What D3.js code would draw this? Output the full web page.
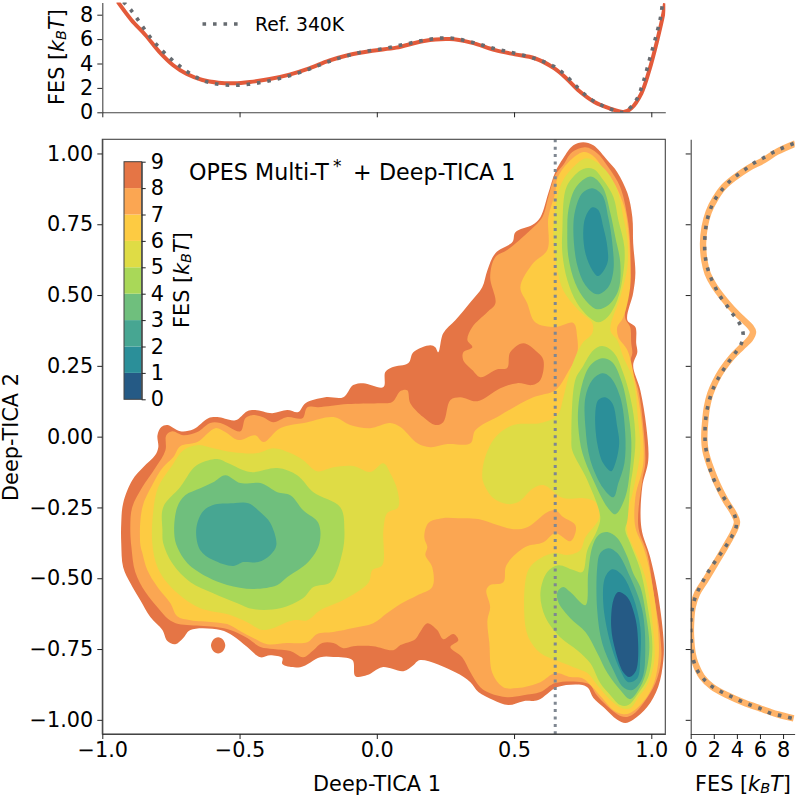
<!DOCTYPE html>
<html><head><meta charset="utf-8">
<script src="https://cdn.jsdelivr.net/npm/d3@7"></script>
<style>html,body{margin:0;padding:0;background:#fff}svg{display:block}text{font-family:"DejaVu Sans",sans-serif;fill:#000}</style>
</head><body><svg id="c" width="797" height="797"></svg>
<script>
const fesLevels=[0,1,2,3,4,5,6,7,8,9];
const fesColors=["#255a85","#2b8f99","#47a692","#6fbf7d","#a9d858","#dfdc45","#fdcb42","#fba652","#e57545"];
const xTicks=[-1,-0.5,0,0.5,1];
const yTicks=[-1,-0.75,-0.5,-0.25,0,0.25,0.5,0.75,1];
const fesTicksTop=[0,2,4,6,8];
const refCv=0.65;
const title="OPES Multi-T";
const legendLabel="Ref. 340K";

const outer9=[[-0.931,-0.305],[-0.924,-0.235],[-0.891,-0.154],[-0.851,-0.108],[-0.807,-0.065],[-0.796,-0.037],[-0.799,0.005],[-0.785,0.034],[-0.763,0.041],[-0.716,0.019],[-0.668,0.026],[-0.614,0.065],[-0.581,0.069],[-0.515,0.058],[-0.472,0.09],[-0.443,0.094],[-0.381,0.083],[-0.326,0.094],[-0.286,0.087],[-0.26,0.118],[-0.188,0.139],[-0.122,0.139],[-0.086,0.182],[-0.049,0.189],[0.024,0.175],[0.031,0.228],[0.056,0.245],[0.115,0.26],[0.133,0.298],[0.195,0.323],[0.213,0.316],[0.224,0.298],[0.242,0.365],[0.286,0.411],[0.341,0.475],[0.384,0.528],[0.403,0.588],[0.432,0.648],[0.494,0.687],[0.505,0.722],[0.566,0.747],[0.596,0.775],[0.625,0.86],[0.65,0.934],[0.679,0.983],[0.716,1.029],[0.752,1.04],[0.789,1.029],[0.84,0.976],[0.876,0.934],[0.913,0.86],[0.931,0.775],[0.934,0.683],[0.942,0.577],[0.934,0.507],[0.913,0.411],[0.942,0.387],[0.945,0.33],[0.949,0.298],[0.934,0.252],[0.96,0.164],[0.982,0.034],[0.989,-0.083],[0.967,-0.178],[0.964,-0.323],[0.996,-0.426],[1.022,-0.542],[1.044,-0.708],[1.044,-0.789],[1.025,-0.884],[0.985,-0.955],[0.934,-1.0],[0.905,-1.011],[0.876,-1.0],[0.825,-0.955],[0.789,-0.923],[0.77,-0.888],[0.749,-0.877],[0.658,-0.884],[0.588,-0.93],[0.534,-0.934],[0.479,-0.948],[0.424,-0.93],[0.37,-0.902],[0.341,-0.867],[0.286,-0.832],[0.158,-0.789],[0.133,-0.807],[0.097,-0.828],[0.02,-0.814],[-0.035,-0.842],[-0.078,-0.846],[-0.089,-0.789],[-0.158,-0.778],[-0.206,-0.779],[-0.279,-0.814],[-0.344,-0.803],[-0.344,-0.782],[-0.388,-0.772],[-0.424,-0.779],[-0.472,-0.743],[-0.523,-0.704],[-0.57,-0.683],[-0.679,-0.683],[-0.705,-0.711],[-0.734,-0.733],[-0.763,-0.722],[-0.781,-0.683],[-0.825,-0.637],[-0.862,-0.577],[-0.898,-0.517],[-0.924,-0.461],[-0.931,-0.376]];
const blob9=[[-0.578,-0.708],[-0.56,-0.717],[-0.552,-0.737],[-0.56,-0.757],[-0.578,-0.766],[-0.596,-0.757],[-0.604,-0.737],[-0.596,-0.717]];
const outer8=[[-0.894,-0.39],[-0.898,-0.32],[-0.891,-0.249],[-0.854,-0.178],[-0.807,-0.111],[-0.77,-0.048],[-0.767,0.005],[-0.745,0.019],[-0.705,0.005],[-0.654,0.016],[-0.607,0.048],[-0.57,0.048],[-0.497,0.019],[-0.479,0.065],[-0.454,0.076],[-0.417,0.069],[-0.377,0.051],[-0.326,0.069],[-0.271,0.065],[-0.253,0.104],[-0.213,0.104],[-0.107,0.115],[0.002,0.118],[0.056,0.122],[0.086,0.161],[0.111,0.164],[0.122,0.118],[0.169,0.069],[0.213,0.041],[0.242,0.051],[0.268,0.129],[0.304,0.139],[0.366,0.125],[0.45,0.171],[0.512,0.189],[0.566,0.182],[0.596,0.2],[0.607,0.27],[0.585,0.298],[0.534,0.33],[0.486,0.298],[0.475,0.242],[0.439,0.238],[0.377,0.21],[0.348,0.235],[0.315,0.27],[0.315,0.298],[0.348,0.316],[0.33,0.341],[0.348,0.387],[0.403,0.44],[0.432,0.471],[0.413,0.563],[0.432,0.634],[0.475,0.659],[0.559,0.729],[0.603,0.775],[0.625,0.846],[0.65,0.923],[0.679,0.959],[0.712,1.005],[0.76,1.022],[0.803,1.001],[0.843,0.952],[0.887,0.881],[0.913,0.775],[0.923,0.683],[0.923,0.563],[0.913,0.493],[0.905,0.418],[0.923,0.387],[0.927,0.33],[0.931,0.295],[0.923,0.26],[0.953,0.164],[0.971,0.034],[0.978,-0.094],[0.967,-0.154],[0.953,-0.32],[0.985,-0.411],[1.007,-0.542],[1.033,-0.708],[1.036,-0.789],[1.015,-0.87],[0.971,-0.941],[0.934,-0.98],[0.905,-0.99],[0.876,-0.98],[0.825,-0.938],[0.796,-0.906],[0.778,-0.877],[0.749,-0.867],[0.65,-0.87],[0.596,-0.902],[0.534,-0.913],[0.475,-0.92],[0.413,-0.906],[0.377,-0.885],[0.341,-0.832],[0.311,-0.779],[0.268,-0.743],[0.297,-0.719],[0.279,-0.697],[0.242,-0.715],[0.22,-0.683],[0.184,-0.659],[0.158,-0.69],[0.14,-0.715],[0.086,-0.736],[0.06,-0.754],[-0.013,-0.74],[-0.086,-0.74],[-0.122,-0.747],[-0.158,-0.729],[-0.199,-0.729],[-0.231,-0.754],[-0.268,-0.779],[-0.315,-0.757],[-0.377,-0.75],[-0.424,-0.743],[-0.472,-0.711],[-0.534,-0.683],[-0.581,-0.673],[-0.679,-0.666],[-0.723,-0.662],[-0.76,-0.644],[-0.796,-0.606],[-0.843,-0.549],[-0.88,-0.478]];
const outer7=[[-0.854,-0.411],[-0.862,-0.376],[-0.854,-0.249],[-0.818,-0.171],[-0.781,-0.111],[-0.741,-0.072],[-0.716,-0.034],[-0.654,-0.019],[-0.588,0.03],[-0.552,0.016],[-0.505,-0.012],[-0.443,0.005],[-0.413,-0.019],[-0.352,0.03],[-0.253,0.051],[-0.158,0.069],[-0.097,0.041],[-0.024,0.03],[0.049,0.048],[0.086,0.034],[0.148,-0.023],[0.195,-0.037],[0.257,-0.026],[0.341,-0.023],[0.359,0.023],[0.45,0.076],[0.57,0.139],[0.65,0.164],[0.694,0.224],[0.73,0.295],[0.73,0.351],[0.716,0.401],[0.65,0.387],[0.577,0.404],[0.548,0.471],[0.523,0.528],[0.57,0.613],[0.621,0.659],[0.625,0.775],[0.65,0.86],[0.658,0.913],[0.698,0.969],[0.752,1.005],[0.785,0.994],[0.825,0.948],[0.869,0.888],[0.902,0.81],[0.916,0.729],[0.923,0.623],[0.923,0.528],[0.898,0.422],[0.876,0.387],[0.88,0.351],[0.913,0.305],[0.942,0.189],[0.964,0.058],[0.971,-0.094],[0.942,-0.214],[0.942,-0.32],[0.971,-0.39],[0.996,-0.482],[1.025,-0.683],[1.025,-0.8],[1.004,-0.884],[0.96,-0.948],[0.923,-0.976],[0.898,-0.98],[0.862,-0.966],[0.821,-0.923],[0.785,-0.884],[0.749,-0.853],[0.705,-0.849],[0.65,-0.835],[0.596,-0.867],[0.512,-0.888],[0.461,-0.885],[0.421,-0.835],[0.41,-0.729],[0.403,-0.648],[0.413,-0.602],[0.399,-0.542],[0.413,-0.524],[0.461,-0.514],[0.472,-0.454],[0.541,-0.39],[0.607,-0.373],[0.65,-0.341],[0.705,-0.369],[0.723,-0.341],[0.723,-0.312],[0.679,-0.284],[0.65,-0.26],[0.621,-0.267],[0.548,-0.32],[0.497,-0.327],[0.439,-0.312],[0.37,-0.291],[0.297,-0.288],[0.239,-0.288],[0.188,-0.305],[0.173,-0.355],[0.184,-0.39],[0.177,-0.418],[0.202,-0.461],[0.202,-0.531],[0.148,-0.56],[0.086,-0.591],[0.038,-0.623],[-0.013,-0.659],[-0.086,-0.676],[-0.158,-0.69],[-0.217,-0.697],[-0.253,-0.726],[-0.326,-0.729],[-0.399,-0.733],[-0.45,-0.711],[-0.497,-0.687],[-0.545,-0.662],[-0.596,-0.655],[-0.679,-0.648],[-0.727,-0.634],[-0.752,-0.588],[-0.799,-0.531],[-0.836,-0.471]];
const left6=[[-0.818,-0.376],[-0.814,-0.26],[-0.796,-0.178],[-0.745,-0.101],[-0.705,-0.048],[-0.654,-0.03],[-0.596,-0.041],[-0.523,-0.055],[-0.435,-0.058],[-0.377,-0.041],[-0.315,-0.058],[-0.268,-0.083],[-0.217,-0.122],[-0.158,-0.108],[-0.086,-0.104],[-0.024,-0.125],[0.024,-0.094],[0.049,-0.129],[0.075,-0.189],[0.078,-0.249],[0.038,-0.27],[0.024,-0.33],[0.02,-0.454],[-0.016,-0.471],[-0.031,-0.517],[-0.122,-0.577],[-0.206,-0.613],[-0.253,-0.648],[-0.304,-0.648],[-0.413,-0.683],[-0.472,-0.655],[-0.534,-0.63],[-0.643,-0.606],[-0.705,-0.57],[-0.763,-0.517],[-0.799,-0.461]];
const right6=[[0.384,-0.129],[0.395,-0.072],[0.432,-0.002],[0.497,0.041],[0.596,0.048],[0.658,0.076],[0.679,0.136],[0.698,0.21],[0.723,0.281],[0.749,0.33],[0.785,0.365],[0.785,0.401],[0.734,0.447],[0.679,0.517],[0.658,0.588],[0.65,0.634],[0.643,0.729],[0.661,0.86],[0.679,0.906],[0.716,0.952],[0.76,0.983],[0.789,0.976],[0.84,0.934],[0.876,0.87],[0.898,0.775],[0.913,0.694],[0.913,0.598],[0.887,0.493],[0.851,0.376],[0.876,0.341],[0.898,0.281],[0.934,0.2],[0.953,0.048],[0.96,-0.048],[0.934,-0.189],[0.913,-0.27],[0.913,-0.341],[0.934,-0.39],[0.978,-0.496],[1.007,-0.683],[1.011,-0.789],[0.989,-0.87],[0.953,-0.92],[0.923,-0.959],[0.894,-0.959],[0.851,-0.93],[0.803,-0.877],[0.767,-0.835],[0.716,-0.814],[0.65,-0.789],[0.596,-0.764],[0.552,-0.708],[0.537,-0.62],[0.552,-0.471],[0.596,-0.429],[0.65,-0.411],[0.694,-0.418],[0.741,-0.401],[0.76,-0.355],[0.807,-0.295],[0.811,-0.27],[0.796,-0.231],[0.749,-0.217],[0.679,-0.217],[0.607,-0.171],[0.57,-0.182],[0.515,-0.231],[0.475,-0.238],[0.424,-0.217],[0.388,-0.161]];
const top5=[[0.676,0.729],[0.687,0.87],[0.712,0.913],[0.752,0.945],[0.789,0.945],[0.825,0.906],[0.862,0.846],[0.88,0.764],[0.902,0.669],[0.898,0.577],[0.876,0.482],[0.84,0.422],[0.807,0.404],[0.778,0.418],[0.73,0.471],[0.694,0.553],[0.676,0.648]];
const lower5=[[0.821,0.32],[0.862,0.298],[0.898,0.224],[0.931,0.104],[0.942,-0.012],[0.934,-0.108],[0.923,-0.178],[0.913,-0.295],[0.905,-0.33],[0.923,-0.376],[0.96,-0.471],[0.989,-0.613],[1.004,-0.743],[0.989,-0.849],[0.953,-0.906],[0.916,-0.948],[0.887,-0.948],[0.851,-0.913],[0.814,-0.87],[0.778,-0.8],[0.73,-0.754],[0.668,-0.708],[0.614,-0.637],[0.596,-0.553],[0.621,-0.478],[0.661,-0.454],[0.716,-0.471],[0.749,-0.478],[0.767,-0.401],[0.803,-0.33],[0.814,-0.284],[0.767,-0.154],[0.712,-0.048],[0.709,-0.002],[0.723,0.2],[0.749,0.245],[0.789,0.305]];
const left5=[[-0.781,-0.33],[-0.778,-0.249],[-0.716,-0.178],[-0.668,-0.111],[-0.643,-0.094],[-0.581,-0.079],[-0.541,-0.094],[-0.461,-0.125],[-0.362,-0.111],[-0.29,-0.136],[-0.231,-0.196],[-0.133,-0.249],[-0.118,-0.33],[-0.126,-0.411],[-0.169,-0.514],[-0.231,-0.531],[-0.268,-0.57],[-0.352,-0.606],[-0.45,-0.609],[-0.508,-0.588],[-0.596,-0.553],[-0.679,-0.514],[-0.745,-0.447],[-0.778,-0.376]];
const left4=[[-0.738,-0.341],[-0.727,-0.249],[-0.698,-0.207],[-0.643,-0.182],[-0.596,-0.161],[-0.552,-0.136],[-0.497,-0.164],[-0.424,-0.164],[-0.362,-0.196],[-0.315,-0.207],[-0.268,-0.26],[-0.213,-0.305],[-0.209,-0.376],[-0.25,-0.443],[-0.326,-0.496],[-0.362,-0.524],[-0.45,-0.538],[-0.545,-0.524],[-0.617,-0.496],[-0.69,-0.447],[-0.727,-0.39]];
const left3=[[-0.658,-0.33],[-0.636,-0.267],[-0.599,-0.242],[-0.523,-0.235],[-0.468,-0.235],[-0.424,-0.267],[-0.388,-0.305],[-0.366,-0.383],[-0.388,-0.418],[-0.432,-0.443],[-0.486,-0.443],[-0.523,-0.457],[-0.596,-0.436],[-0.643,-0.401]];
const top4=[[0.694,0.729],[0.698,0.8],[0.723,0.877],[0.767,0.916],[0.789,0.916],[0.825,0.877],[0.851,0.789],[0.869,0.704],[0.887,0.613],[0.88,0.517],[0.843,0.464],[0.803,0.45],[0.76,0.482],[0.723,0.542],[0.698,0.634]];
const top3=[[0.716,0.729],[0.723,0.8],[0.749,0.86],[0.785,0.877],[0.821,0.853],[0.843,0.775],[0.858,0.683],[0.862,0.588],[0.843,0.528],[0.803,0.503],[0.76,0.535],[0.73,0.606]];
const top2=[[0.752,0.719],[0.76,0.775],[0.785,0.81],[0.807,0.8],[0.825,0.74],[0.84,0.669],[0.84,0.613],[0.807,0.567],[0.785,0.588],[0.76,0.648]];
const mid4=[[0.734,0.104],[0.749,0.189],[0.778,0.252],[0.821,0.277],[0.858,0.263],[0.894,0.189],[0.913,0.104],[0.927,-0.012],[0.923,-0.108],[0.905,-0.214],[0.869,-0.274],[0.84,-0.249],[0.789,-0.154],[0.749,-0.058],[0.734,0.034]];
const mid3=[[0.76,0.139],[0.785,0.2],[0.821,0.224],[0.851,0.21],[0.887,0.139],[0.905,0.012],[0.902,-0.094],[0.88,-0.164],[0.862,-0.214],[0.825,-0.182],[0.778,-0.083],[0.76,0.034]];
const mid2=[[0.796,0.083],[0.807,0.129],[0.832,0.139],[0.858,0.118],[0.876,0.034],[0.883,-0.023],[0.869,-0.094],[0.854,-0.122],[0.825,-0.094],[0.803,-0.023]];
const low4=[[0.84,-0.337],[0.876,-0.358],[0.913,-0.425],[0.934,-0.482],[0.96,-0.531],[0.978,-0.613],[0.993,-0.743],[0.978,-0.842],[0.953,-0.895],[0.923,-0.927],[0.887,-0.895],[0.84,-0.835],[0.803,-0.764],[0.76,-0.69],[0.705,-0.641],[0.661,-0.584],[0.658,-0.549],[0.679,-0.531],[0.705,-0.549],[0.76,-0.595],[0.77,-0.482],[0.785,-0.39],[0.807,-0.348]];
const low3=[[0.843,-0.394],[0.814,-0.411],[0.803,-0.461],[0.803,-0.613],[0.821,-0.729],[0.862,-0.825],[0.898,-0.885],[0.931,-0.895],[0.967,-0.853],[0.978,-0.754],[0.967,-0.613],[0.923,-0.496],[0.876,-0.411]];
const low2=[[0.858,-0.468],[0.832,-0.496],[0.825,-0.588],[0.851,-0.729],[0.887,-0.825],[0.916,-0.867],[0.949,-0.853],[0.96,-0.779],[0.96,-0.673],[0.934,-0.567],[0.894,-0.489]];
const low1=[[0.88,-0.549],[0.862,-0.577],[0.854,-0.673],[0.869,-0.754],[0.898,-0.832],[0.92,-0.849],[0.945,-0.825],[0.949,-0.683],[0.934,-0.613],[0.913,-0.567]];

const cv1Top=[[-0.944,9.07],[-0.894,7.57],[-0.843,6.34],[-0.793,4.97],[-0.743,3.88],[-0.692,3.14],[-0.635,2.65],[-0.577,2.43],[-0.519,2.38],[-0.462,2.49],[-0.39,2.73],[-0.318,3.09],[-0.246,3.6],[-0.174,4.23],[-0.102,4.7],[-0.016,5.05],[0.071,5.3],[0.172,5.85],[0.265,6.0],[0.344,5.71],[0.431,5.1],[0.503,4.75],[0.575,4.43],[0.647,3.6],[0.69,2.79],[0.733,1.83],[0.791,0.87],[0.848,0.33],[0.899,0.03],[0.927,0.33],[0.964,1.56],[0.993,3.47],[1.022,5.93],[1.044,8.1],[1.05,8.93]];
const cv1Ref=[[-0.923,9.07],[-0.894,8.33],[-0.825,6.15],[-0.772,4.84],[-0.707,3.6],[-0.643,2.7],[-0.599,2.38],[-0.519,2.21],[-0.44,2.38],[-0.362,2.73],[-0.282,3.25],[-0.202,3.93],[-0.128,4.51],[-0.053,4.95],[0.027,5.22],[0.107,5.6],[0.186,5.96],[0.265,6.09],[0.344,5.76],[0.424,5.25],[0.503,4.84],[0.581,4.37],[0.647,3.74],[0.69,2.98],[0.734,1.97],[0.77,1.23],[0.805,0.74],[0.848,0.3],[0.899,0],[0.945,1.01],[0.971,2.51],[0.993,4.29],[1.015,6.07],[1.033,7.7],[1.04,8.8]];
const cv2Right=[[9.06,1.035],[7.47,1.006],[6.32,0.976],[5.02,0.949],[3.87,0.917],[2.86,0.882],[2.14,0.841],[1.56,0.794],[1.21,0.741],[1.07,0.682],[1.18,0.623],[1.47,0.576],[1.99,0.535],[2.71,0.494],[3.58,0.452],[4.44,0.417],[5.17,0.388],[5.4,0.37],[5.17,0.347],[4.44,0.317],[3.58,0.282],[2.71,0.235],[2.14,0.194],[1.7,0.152],[1.41,0.105],[1.24,0.046],[1.18,-0.006],[1.27,-0.048],[1.5,-0.083],[1.7,-0.107],[2.28,-0.166],[3,-0.224],[3.72,-0.271],[4.01,-0.301],[3.72,-0.336],[3,-0.389],[2.14,-0.448],[1.27,-0.507],[0.55,-0.554],[0.17,-0.601],[0.03,-0.66],[0.03,-0.707],[0.17,-0.766],[0.4,-0.801],[0.98,-0.848],[1.85,-0.883],[3.15,-0.913],[4.59,-0.939],[6.03,-0.96],[7.47,-0.98],[8.92,-0.995]];
const cv2Ref=[[8.92,1.035],[8.05,1.021],[7.19,1.005],[6.32,0.985],[5.51,0.967],[4.73,0.944],[3.95,0.921],[3.23,0.896],[2.6,0.866],[2.05,0.834],[1.67,0.799],[1.41,0.762],[1.27,0.723],[1.21,0.682],[1.24,0.644],[1.39,0.607],[1.67,0.569],[2.05,0.534],[2.51,0.498],[3.06,0.467],[3.61,0.435],[4.18,0.403],[4.53,0.368],[4.39,0.329],[3.87,0.296],[3.29,0.264],[2.77,0.232],[2.28,0.198],[1.88,0.163],[1.59,0.125],[1.39,0.088],[1.27,0.049],[1.24,0.01],[1.27,-0.03],[1.44,-0.068],[1.62,-0.107],[1.93,-0.144],[2.37,-0.182],[2.86,-0.215],[3.38,-0.246],[3.81,-0.278],[3.95,-0.316],[3.58,-0.351],[3.06,-0.386],[2.51,-0.418],[1.96,-0.45],[1.44,-0.483],[0.98,-0.517],[0.55,-0.551],[0.23,-0.589],[0.06,-0.627],[0,-0.666],[0.03,-0.704],[0.09,-0.744],[0.2,-0.782],[0.49,-0.819],[1.04,-0.852],[1.73,-0.879],[2.57,-0.899],[3.43,-0.916],[4.3,-0.933],[5.19,-0.948],[6.09,-0.961],[6.98,-0.978],[7.91,-0.986],[8.8,-0.995]];

const regions=[[8,outer9],[8,blob9],[7,outer8],[6,outer7],[5,left6],[5,right6],[4,top5],[4,lower5],[4,left5],[3,left4],[3,top4],[3,mid4],[3,low4],[2,left3],[2,top3],[2,mid3],[2,low3],[1,top2],[1,mid2],[1,low2],[0,low1]];

const svg=d3.select("#c");
const L=102.3,R=665.3,T=139.3,B=734;
const x=d3.scaleLinear().domain([-1,1.051]).range([L,R]);
const y=d3.scaleLinear().domain([-1.05,1.05]).range([B,T]);
const topF=d3.scaleLinear().domain([0,9]).range([112.3,2.5]);
const rightF=d3.scaleLinear().domain([0,9]).range([690.7,794.6]);
const cbarY=d3.scaleLinear().domain([0,9]).range([399.3,161.7]);
const FS=20.8;

const defs=svg.append("defs");
function clip(id,x0,y0,w,h){defs.append("clipPath").attr("id",id).append("rect").attr("x",x0).attr("y",y0).attr("width",w).attr("height",h);}
clip("cm",L,T,R-L,B-T);clip("ct",L,2.5,R-L,109.8);clip("cr",690.7,T,104,B-T);

const contourLine=d3.line().x(d=>x(d[0])).y(d=>y(d[1])).curve(d3.curveCatmullRomClosed.alpha(0.5));
const gm=svg.append("g").attr("clip-path","url(#cm)");
gm.selectAll("path.r").data(regions).join("path").attr("class","r")
  .attr("d",d=>contourLine(d[1])).attr("fill",d=>fesColors[d[0]]);
gm.append("line").attr("x1",x(refCv)).attr("x2",x(refCv)).attr("y1",T).attr("y2",B)
  .attr("stroke","#7f8791").attr("stroke-width",3).attr("stroke-dasharray","3 4.4");

function style(g,labels){
  g.selectAll("path.domain").attr("stroke","#444").attr("stroke-width",1.1);
  g.selectAll(".tick line").attr("stroke","#222").attr("stroke-width",1);
  g.selectAll("text").attr("font-size",FS).attr("font-family",'"DejaVu Sans"').attr("fill","#000");
  if(labels===false) g.selectAll("text").remove();
}
const fmt1=d3.format(".1f"),fmt2=d3.format(".2f");
svg.append("rect").attr("x",L).attr("y",T).attr("width",R-L).attr("height",B-T).attr("fill","none").attr("stroke","#444").attr("stroke-width",1.1);
style(svg.append("g").attr("transform",`translate(0,${B})`).call(d3.axisBottom(x).tickValues(xTicks).tickFormat(fmt1).tickSize(5).tickPadding(3).tickSizeOuter(0)));
style(svg.append("g").attr("transform",`translate(${L},0)`).call(d3.axisLeft(y).tickValues(yTicks).tickFormat(fmt2).tickSize(5).tickPadding(4).tickSizeOuter(0)));

// top panel
const topLine=d3.line().x(d=>x(d[0])).y(d=>topF(d[1])).curve(d3.curveCatmullRom.alpha(0.5));
const gt=svg.append("g").attr("clip-path","url(#ct)");
gt.append("path").attr("d",topLine(cv1Top)).attr("fill","none").attr("stroke","#e35a3a").attr("stroke-width",4);
gt.append("path").attr("d",topLine(cv1Ref)).attr("fill","none").attr("stroke","#666b70").attr("stroke-width",3.6).attr("stroke-dasharray","3.6 6.9");
style(svg.append("g").attr("transform",`translate(0,112.3)`).call(d3.axisBottom(x).tickValues(xTicks).tickSize(5).tickSizeOuter(0)),false);
style(svg.append("g").attr("transform",`translate(${L},0)`).call(d3.axisLeft(topF).tickValues(fesTicksTop).tickSize(5).tickPadding(4).tickSizeOuter(0)));
svg.append("line").attr("x1",202.5).attr("x2",240.5).attr("y1",24).attr("y2",24).attr("stroke","#666b70").attr("stroke-width",3.6).attr("stroke-dasharray","3.6 6.9");
svg.append("text").attr("x",255).attr("y",31).attr("font-size",18.8).text(legendLabel);

// right panel
const rightLine=d3.line().x(d=>rightF(d[0])).y(d=>y(d[1])).curve(d3.curveCatmullRom.alpha(0.5));
const gr=svg.append("g").attr("clip-path","url(#cr)");
gr.append("path").attr("d",rightLine(cv2Right)).attr("fill","none").attr("stroke","#ffa64d").attr("stroke-width",6.4).attr("stroke-opacity",0.85);
gr.append("path").attr("d",rightLine(cv2Ref)).attr("fill","none").attr("stroke","#666b70").attr("stroke-width",3.6).attr("stroke-dasharray","3.6 6.9");
style(svg.append("g").attr("transform",`translate(690.7,0)`).call(d3.axisLeft(y).tickValues(yTicks).tickSize(5).tickSizeOuter(0)),false);
style(svg.append("g").attr("transform",`translate(0,${B})`).call(d3.axisBottom(rightF).tickValues(fesTicksTop).tickSize(5).tickPadding(3).tickSizeOuter(0)));

// colorbar
const cb=svg.append("g");
cb.selectAll("rect").data(fesColors).join("rect").attr("x",124).attr("width",17.7)
  .attr("y",(d,i)=>cbarY(fesLevels[i+1])).attr("height",(d,i)=>cbarY(fesLevels[i])-cbarY(fesLevels[i+1])).attr("fill",d=>d);
style(svg.append("g").attr("transform","translate(141.7,0)").call(d3.axisRight(cbarY).tickValues(fesLevels).tickSize(4).tickPadding(5).tickSizeOuter(0)));
cb.append("rect").attr("x",124).attr("y",161.7).attr("width",17.7).attr("height",237.6).attr("fill","none").attr("stroke","#444").attr("stroke-width",1);

function fesLabel(sel){
  sel.append("tspan").text("FES [");
  sel.append("tspan").attr("font-style","italic").text("k");
  sel.append("tspan").attr("font-style","italic").attr("font-size","70%").attr("dy","0.15em").text("B");
  sel.append("tspan").attr("font-style","italic").attr("dy","-0.105em").text("T");
  sel.append("tspan").text("]");
}
svg.append("text").attr("transform","translate(189,280) rotate(-90)").attr("text-anchor","middle").attr("font-size",FS).call(fesLabel);
svg.append("text").attr("transform","translate(64,57) rotate(-90)").attr("text-anchor","middle").attr("font-size",FS).call(fesLabel);
svg.append("text").attr("x",743).attr("y",790.5).attr("text-anchor","middle").attr("font-size",FS).call(fesLabel);
svg.append("text").attr("x",377).attr("y",790.5).attr("text-anchor","middle").attr("font-size",FS).text("Deep-TICA 1");
svg.append("text").attr("transform","translate(18,437) rotate(-90)").attr("text-anchor","middle").attr("font-size",FS).text("Deep-TICA 2");
const t=svg.append("text").attr("x",189).attr("y",180).attr("font-size",22.2);
t.append("tspan").text(title);
t.append("tspan").attr("x",333).attr("font-size",17).attr("dy","-8").text("*");
t.append("tspan").attr("x",353).attr("dy","8").text("+");
t.append("tspan").attr("x",379).text("Deep-TICA 1");
</script></body></html>
